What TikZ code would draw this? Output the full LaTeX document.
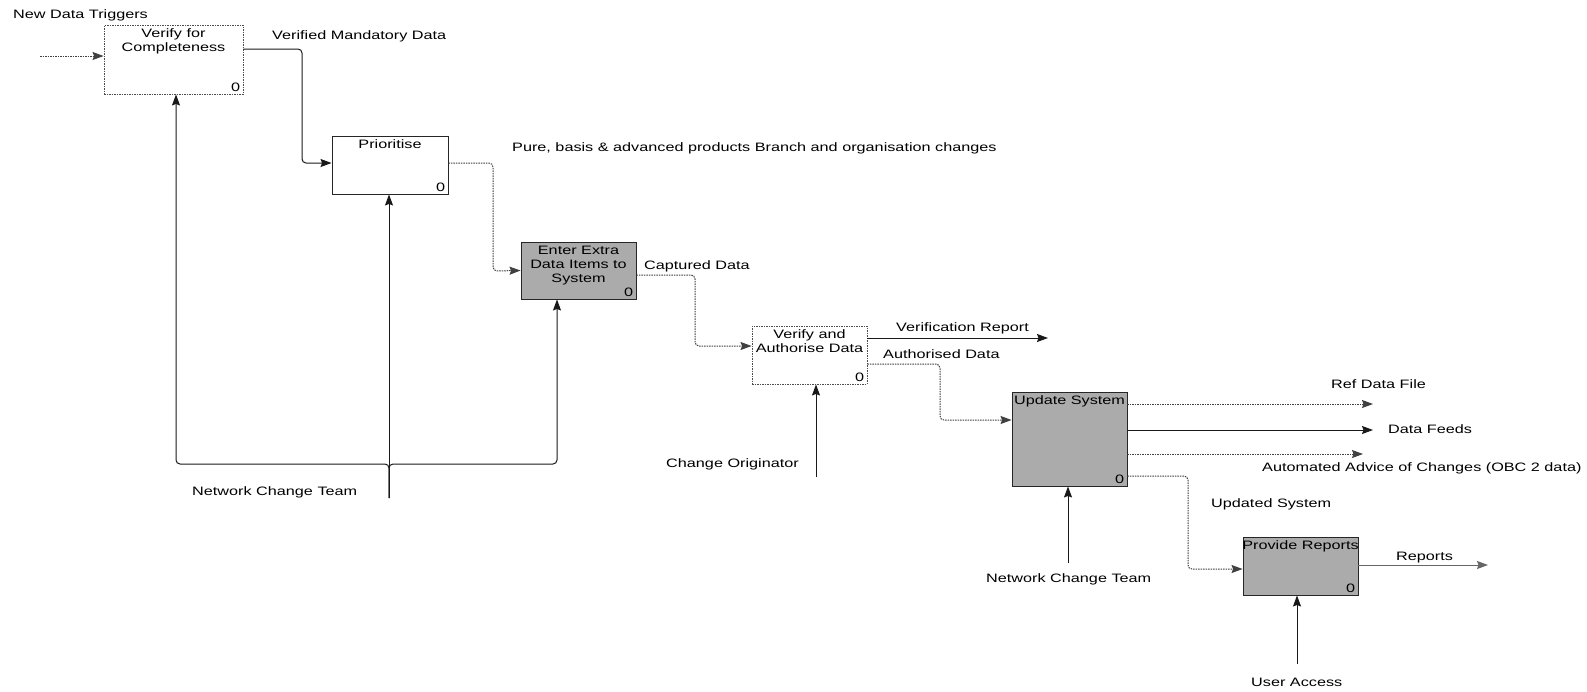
\documentclass[tikz,border=0pt]{standalone}
\usepackage{fontspec}
\setmainfont[FakeStretch=1.33]{Liberation Sans}
\usetikzlibrary{arrows.meta}
\begin{document}
\begin{tikzpicture}[x=1pt,y=-1pt,
  txt/.style={font=\fontsize{12.2}{14}\selectfont, inner sep=0pt},
  boxtxt/.style={txt, align=center, anchor=north},
  act/.style={draw=black!85, line width=0.9pt, fill=white,
    minimum width=115pt, minimum height=58pt, inner sep=0pt},
  actdot/.style={act, draw=black!70, dash pattern=on 1.5pt off 1pt},
  actgrey/.style={act, fill=black!33},
  flow/.style={draw=black!90, line width=1pt, rounded corners=4pt,
    -{Stealth[length=11pt,width=8pt,inset=1.5pt]}},
  flowdot/.style={flow, draw=black!75, dash pattern=on 1.5pt off 1pt}
]
\useasboundingbox[fill=white] (0,0) rectangle (1587,691);

% activity boxes
\node[actdot, minimum width=139pt, minimum height=69pt] (vfc) at (173.5,59.5) {};
\node[act, minimum width=116pt] (pri) at (390,165) {};
\node[actgrey, minimum height=57pt] (ent) at (578.5,270.5) {};
\node[actdot] (vaa) at (809.5,355) {};
\node[actgrey, minimum height=94pt] (upd) at (1069.5,439) {};
\node[actgrey] (prv) at (1300.5,566) {};

% box titles
\node[boxtxt] (vfc-t) at ([yshift=-4pt]vfc.north) {Verify for\\Completeness};
\node[boxtxt] (pri-t) at ([yshift=-4pt]pri.north) {Prioritise};
\node[boxtxt] (ent-t) at ([yshift=-4pt]ent.north) {Enter Extra\\Data Items to\\System};
\node[boxtxt] (vaa-t) at ([yshift=-4pt]vaa.north) {Verify and\\Authorise Data};
\node[boxtxt] (upd-t) at ([yshift=-4pt]upd.north) {Update System};
\node[boxtxt] (prv-t) at ([yshift=-4pt]prv.north) {Provide Reports};

% node numbers
\foreach \b in {vfc,pri,ent,vaa,upd,prv}
  \node[txt, anchor=south east] (\b-n) at ([xshift=-3pt,yshift=3pt]\b.south east) {0};

% free ends and branch points
\coordinate (ndt) at (40,56);
\coordinate (vrep) at (1048,338);
\coordinate (refd) at (1373,404);
\coordinate (feeds) at (1373,430);
\coordinate (adv) at (1363,454);
\coordinate (rep) at (1488,565);
\coordinate (ncl) at (389,498);
\coordinate (bj) at (389,464);
\coordinate (bl) at (176,464);
\coordinate (br) at (557,464);
\coordinate (cor) at (816,477);
\coordinate (ncr) at (1068,563);
\coordinate (usr) at (1297,664);

% inputs and outputs
\draw[flowdot] (ndt) -- (ndt -| vfc.west);
\draw[flow] ([yshift=10.5pt]vfc.east) -- (302,49) -- (302,163) -- ([yshift=2pt]pri.west);
\draw[flowdot] ([yshift=2pt]pri.east) -- (493,163) -- (493,271) -- (ent.west);
\draw[flowdot] ([yshift=-4.5pt]ent.east) -- (695,275) -- (695,346) -- ([yshift=9pt]vaa.west);
\draw[flow] ([yshift=17pt]vaa.east) -- (vrep);
\draw[flowdot] ([yshift=-9pt]vaa.east) -- (940,364) -- (940,420) -- ([yshift=19pt]upd.west);
\draw[flowdot] (refd -| upd.east) -- (refd);
\draw[flow] (feeds -| upd.east) -- (feeds);
\draw[flowdot] (adv -| upd.east) -- (adv);
\draw[flowdot] ([yshift=-37pt]upd.east) -- (1188,476) -- (1188,569) -- ([yshift=-3pt]prv.west);
\draw[flow, draw=black!60] ([yshift=1pt]prv.east) -- (rep);

% controls
\draw[flow] (ncl) -- (ncl |- pri.south);
\draw[flow] (ncl) -- (bj) -- (bl) -- (bl |- vfc.south);
\draw[flow] (ncl) -- (bj) -- (br) -- (br |- ent.south);
\draw[flow] (cor) -- (cor |- vaa.south);
\draw[flow] (ncr) -- (ncr |- upd.south);
\draw[flow] (usr) -- (usr |- prv.south);

% connector labels
\node[txt, anchor=base west] (l-ndt) at (13,18.5) {New Data Triggers};
\node[txt, anchor=base west] (l-vmd) at (272,39.5) {Verified Mandatory Data};
\node[txt, anchor=base west] (l-pure) at (512,151.5) {Pure, basis \& advanced products Branch and organisation changes};
\node[txt, anchor=base west] (l-cap) at (644,269.5) {Captured Data};
\node[txt, anchor=base west] (l-vrep) at (896,331.5) {Verification Report};
\node[txt, anchor=base west] (l-auth) at (883,358.5) {Authorised Data};
\node[txt, anchor=base west] (l-refd) at (1331,388.5) {Ref Data File};
\node[txt, anchor=base west] (l-feeds) at (1388,433.5) {Data Feeds};
\node[txt, anchor=base west] (l-adv) at (1262,471) {Automated Advice of Changes (OBC 2 data)};
\node[txt, anchor=base west] (l-upds) at (1211,507.5) {Updated System};
\node[txt, anchor=base west] (l-rep) at (1396,560.5) {Reports};
\node[txt, anchor=base west] (l-ncl) at (192,495.5) {Network Change Team};
\node[txt, anchor=base west] (l-cor) at (666,467.5) {Change Originator};
\node[txt, anchor=base west] (l-ncr) at (986,582.5) {Network Change Team};
\node[txt, anchor=base west] (l-usr) at (1251,686) {User Access};
\end{tikzpicture}
\end{document}
